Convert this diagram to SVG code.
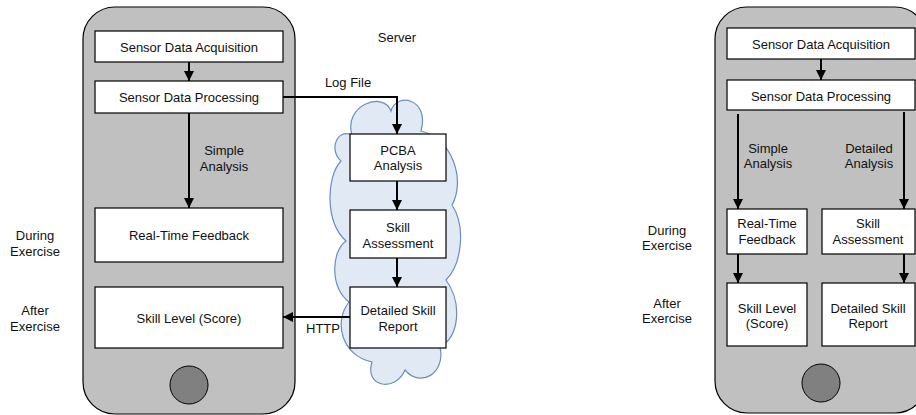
<svg xmlns="http://www.w3.org/2000/svg" width="916" height="415" viewBox="0 0 916 415">
  <style>
    .phone { fill: #c0c0c0; stroke: #000; stroke-width: 1.2; }
    .home { fill: #808080; stroke: #000; stroke-width: 1; }
    .box { fill: #fff; stroke: #000; stroke-width: 1.2; }
    .cloud { fill: #e0e9f4; stroke: #6c8ebf; stroke-width: 1.2; }
    .edge { fill: none; stroke: #000; stroke-width: 2; }
    text { font-family: "Liberation Sans", Arial, sans-serif; font-size: 13px; fill: #111; text-anchor: middle; }
  </style>
  <defs>
    <marker id="arrow" markerUnits="userSpaceOnUse" markerWidth="11" markerHeight="11" refX="10" refY="5.5" orient="auto">
      <path d="M0,0.5 L10,5.5 L0,10.5 Z" fill="#000"/>
    </marker>
  </defs>

  <!-- left device -->
  <g id="phone-left">
    <rect class="phone" x="83" y="7" width="212" height="407" rx="32"/>
    <circle class="home" cx="189" cy="385" r="19"/>
  </g>

  <!-- server cloud -->
  <g id="server-cloud">
    <path class="cloud" d="M352 135 C343 106, 383 90, 391 111 C396 92, 430 98, 421 131 C452 138, 466 180, 452 205 C466 226, 462 264, 446 280 C462 302, 460 336, 440 347 C446 374, 420 388, 405 370 C396 392, 364 388, 372 362 C342 356, 333 322, 349 302 C330 287, 331 252, 346 241 C325 222, 326 177, 341 161 C329 151, 336 128, 352 135 Z"/>
  </g>

  <g id="sda-left">
    <rect class="box" x="95" y="31" width="188" height="31"/>
    <text x="189" y="51.5">Sensor Data Acquisition</text>
  </g>
  <g id="sdp-left">
    <rect class="box" x="95" y="81" width="188" height="32"/>
    <text x="189" y="101.5">Sensor Data Processing</text>
  </g>
  <g id="rtf-left">
    <rect class="box" x="95" y="208" width="188" height="54"/>
    <text x="189" y="239.5">Real-Time Feedback</text>
  </g>
  <g id="score-left">
    <rect class="box" x="95" y="287" width="188" height="61"/>
    <text x="189" y="322.5">Skill Level (Score)</text>
  </g>
  <g id="pcba">
    <rect class="box" x="350" y="134" width="96" height="47"/>
    <text x="398" y="155">PCBA</text>
    <text x="398" y="170">Analysis</text>
  </g>
  <g id="assessment-server">
    <rect class="box" x="350" y="210" width="96" height="48"/>
    <text x="398" y="232">Skill</text>
    <text x="398" y="248">Assessment</text>
  </g>
  <g id="report-server">
    <rect class="box" x="350" y="287" width="96" height="61"/>
    <text x="398" y="315">Detailed Skill</text>
    <text x="398" y="331">Report</text>
  </g>

  <!-- right device -->
  <g id="phone-right">
    <rect class="phone" x="715" y="7" width="212" height="406" rx="32"/>
    <circle class="home" cx="821" cy="383" r="19"/>
  </g>
  <g id="sda-right">
    <rect class="box" x="727" y="28" width="188" height="31"/>
    <text x="821" y="48.5">Sensor Data Acquisition</text>
  </g>
  <g id="sdp-right">
    <rect class="box" x="727" y="80" width="188" height="30"/>
    <text x="821" y="100.5">Sensor Data Processing</text>
  </g>
  <g id="rtf-right">
    <rect class="box" x="727" y="209" width="80" height="45"/>
    <text x="767" y="228">Real-Time</text>
    <text x="767" y="244">Feedback</text>
  </g>
  <g id="assessment-right">
    <rect class="box" x="822" y="209" width="93" height="45"/>
    <text x="868" y="228">Skill</text>
    <text x="868" y="244">Assessment</text>
  </g>
  <g id="score-right">
    <rect class="box" x="727" y="283" width="80" height="63"/>
    <text x="767" y="313">Skill Level</text>
    <text x="767" y="328">(Score)</text>
  </g>
  <g id="report-right">
    <rect class="box" x="822" y="283" width="93" height="63"/>
    <text x="868" y="313">Detailed Skill</text>
    <text x="868" y="328">Report</text>
  </g>

  <!-- free labels -->
  <g id="labels">
    <text x="397" y="42">Server</text>
    <text x="35" y="240">During</text>
    <text x="35" y="256">Exercise</text>
    <text x="35" y="315">After</text>
    <text x="35" y="331">Exercise</text>
    <text x="667" y="235">During</text>
    <text x="667" y="250">Exercise</text>
    <text x="667" y="308">After</text>
    <text x="667" y="323">Exercise</text>
  </g>

  <!-- connectors -->
  <g id="connectors">
    <line class="edge" x1="189" y1="62" x2="189" y2="81" marker-end="url(#arrow)"/>
    <line class="edge" x1="189" y1="113" x2="189" y2="208" marker-end="url(#arrow)"/>
    <text x="224" y="155">Simple</text>
    <text x="224" y="171">Analysis</text>
    <polyline class="edge" points="283,97 397,97 397,134" marker-end="url(#arrow)"/>
    <text x="348" y="87">Log File</text>
    <line class="edge" x1="397" y1="181" x2="397" y2="210" marker-end="url(#arrow)"/>
    <line class="edge" x1="397" y1="258" x2="397" y2="287" marker-end="url(#arrow)"/>
    <line class="edge" x1="350" y1="317" x2="283" y2="317" marker-end="url(#arrow)"/>
    <text x="323" y="333">HTTP</text>

    <line class="edge" x1="821" y1="59" x2="821" y2="80" marker-end="url(#arrow)"/>
    <line class="edge" x1="738" y1="114" x2="738" y2="209" marker-end="url(#arrow)"/>
    <text x="768" y="153">Simple</text>
    <text x="768" y="168">Analysis</text>
    <line class="edge" x1="904" y1="112" x2="904" y2="209" marker-end="url(#arrow)"/>
    <text x="869" y="153">Detailed</text>
    <text x="869" y="168">Analysis</text>
    <line class="edge" x1="738" y1="254" x2="738" y2="283" marker-end="url(#arrow)"/>
    <line class="edge" x1="904" y1="254" x2="904" y2="283" marker-end="url(#arrow)"/>
  </g>
</svg>
